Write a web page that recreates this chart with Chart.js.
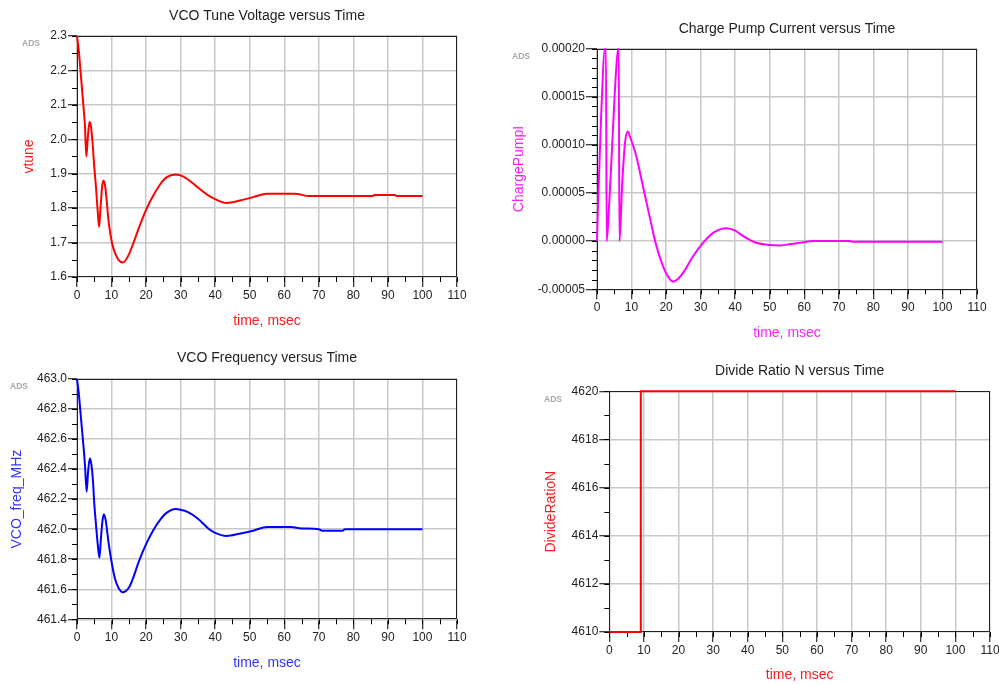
<!DOCTYPE html>
<html lang="en">
<head>
<meta charset="UTF-8">
<title>PLL transient response</title>
<style>
  body { margin: 0; background: #fff; width: 999px; height: 684px; overflow: hidden; position: relative; }
  canvas { position: absolute; }
</style>
</head>
<body>
<canvas id="c1" width="490" height="340" style="left:0;top:0"></canvas>
<canvas id="c2" width="509" height="345" style="left:490px;top:0"></canvas>
<canvas id="c3" width="490" height="344" style="left:0;top:340px"></canvas>
<canvas id="c4" width="515" height="344" style="left:490px;top:340px"></canvas>

<script src="https://cdn.jsdelivr.net/npm/chart.js"></script>
<script>
// values (time in msec)
const vtuneTime  = [0, 0.5, 1.0, 1.5, 2.0, 2.3, 2.7, 3.1, 3.6, 4.0, 4.5, 5.0, 5.5, 6.0, 6.4, 6.8, 7.3, 7.7, 8.2, 9.2,
                    10.1, 11, 12, 13.3, 15, 16, 18, 20, 22, 24, 26, 28.5, 30, 32, 35, 38, 40, 43.3, 47.2, 51,
                    54.9, 63.1, 67.2, 85.6, 86, 92, 92.5, 100];
const vtuneValue = [2.30, 2.26, 2.20, 2.14, 2.08, 2.04, 1.95, 2.00, 2.05, 2.04, 1.99, 1.92, 1.86, 1.79, 1.745, 1.80, 1.865, 1.88, 1.86, 1.757,
                    1.70, 1.67, 1.65, 1.642, 1.665, 1.69, 1.745, 1.795, 1.835, 1.868, 1.89, 1.898, 1.895, 1.884, 1.86, 1.837, 1.826, 1.815, 1.822, 1.832,
                    1.842, 1.842, 1.835, 1.835, 1.838, 1.838, 1.835, 1.835];

const cpTime  = [0, 0.4, 1.2, 2.3, 2.6, 2.8, 3.4, 4.4, 5.4, 6.1, 6.3, 6.5, 7.3, 8.1, 8.9, 9.6, 11.4, 13.3, 15.2, 17.2,
                 19.1, 20.6, 22, 23.5, 24.9, 27.8, 30.7, 33.6, 37.5, 40, 42.3, 46.1, 50, 52.5, 56, 59, 62.5, 73, 74, 100];
const cpValue = [0, 0.00005, 0.00013, 0.0002, 0.0002, 0, 0.00003, 0.0001, 0.00017, 0.0002, 0.0002, 0, 0.00006, 0.000102, 0.000114, 0.000108, 0.000088, 0.000057, 0.000026, -0.000005,
                 -0.000026, -0.000037, -0.000042, -0.000039, -0.000033, -0.0000156, -0.0000017, 0.0000087, 0.0000135, 0.000011, 0.0000052, -0.0000017, -0.000004, -0.0000045, -0.000003, -0.0000015, 0.0000003, 0.0000003, -0.0000005, -0.0000005];

const freqTime  = [0, 0.5, 1.0, 1.5, 2.0, 2.3, 2.8, 3.2, 3.7, 4.1, 4.6, 5.0, 5.5, 6.0, 6.5, 6.9, 7.4, 7.8, 8.3, 9.2,
                   10.1, 11, 12, 13.2, 15, 16, 18, 20, 22, 24, 26, 28.5, 30, 32, 35, 38, 40, 43.3, 47, 51,
                   55, 62, 65, 70, 71, 77, 77.5, 100];
const freqValue = [463.00, 462.91, 462.78, 462.65, 462.52, 462.43, 462.25, 462.38, 462.47, 462.44, 462.33, 462.17, 462.03, 461.90, 461.81, 461.93, 462.06, 462.10, 462.06, 461.90,
                   461.77, 461.67, 461.61, 461.58, 461.61, 461.66, 461.79, 461.90, 461.99, 462.06, 462.11, 462.135, 462.13, 462.115, 462.07, 462.005, 461.975, 461.955, 461.97, 461.99,
                   462.015, 462.015, 462.005, 462.00, 461.99, 461.99, 462.00, 462.00];

const divTime  = [0, 9.1, 9.1, 100];
const divValue = [4610, 4610, 4620, 4620];

const xTicks = { min: 0, max: 110, step: 10, minor: 5 };

const FONT = '"Liberation Sans", Arial, sans-serif';

// border box, minor tick marks and the grey "ADS" tag
const adsFrame = {
  id: 'adsFrame',
  beforeDatasetsDraw(chart, args, opts) {
    const { ctx, chartArea: a, scales: { x, y } } = chart;
    ctx.save();
    ctx.strokeStyle = '#000';
    ctx.lineWidth = 1;
    ctx.beginPath();
    let n = Math.round((x.max - x.min) / opts.xMinor);
    for (let i = 0; i <= n; i++) {
      const px = Math.round(x.getPixelForValue(x.min + i * opts.xMinor)) + 0.5;
      ctx.moveTo(px, a.bottom);
      ctx.lineTo(px, a.bottom + 5);
    }
    n = Math.round((y.max - y.min) / opts.yMinor);
    for (let i = 0; i <= n; i++) {
      const py = Math.round(y.getPixelForValue(y.min + i * opts.yMinor)) + 0.5;
      ctx.moveTo(a.left - 5, py);
      ctx.lineTo(a.left, py);
    }
    ctx.stroke();
    ctx.strokeStyle = '#222';
    ctx.strokeRect(Math.round(a.left) + 0.5, Math.round(a.top) + 0.5, Math.round(a.width) - 1, Math.round(a.height) - 1);
    ctx.fillStyle = '#a8a8a8';
    ctx.font = 'bold 8.5px ' + FONT;
    ctx.textAlign = 'center';
    ctx.textBaseline = 'middle';
    ctx.fillText('ADS', opts.adsX, a.top + 8);
    ctx.restore();
  }
};

function makePanel(id, p) {
  const pts = p.time.map((t, i) => ({ x: t, y: p.values[i] }));
  return new Chart(document.getElementById(id), {
    type: 'line',
    data: {
      datasets: [{
        data: pts,
        borderColor: p.color,
        borderWidth: 2,
        pointRadius: 0,
        clip: p.clip,
        cubicInterpolationMode: p.smooth ? 'monotone' : 'default',
        tension: 0
      }]
    },
    options: {
      responsive: false,
      animation: false,
      devicePixelRatio: 1,
      layout: { padding: { left: 0, top: 0, right: p.padRight, bottom: 0 } },
      plugins: {
        legend: { display: false },
        tooltip: { enabled: false },
        title: {
          display: true,
          text: p.title,
          fullSize: false,
          color: '#222',
          font: { family: FONT, size: 14, weight: 'normal' },
          padding: { top: p.titleTop, bottom: p.titleBottom }
        },
        adsFrame: { xMinor: xTicks.minor, yMinor: p.yMinor, adsX: p.yTitleX + 2 }
      },
      scales: {
        x: {
          type: 'linear',
          min: xTicks.min,
          max: xTicks.max,
          afterFit: s => { s.height = p.xHeight; },
          ticks: { stepSize: xTicks.step, padding: p.xTickPad, color: '#222', font: { family: FONT, size: 12 }, maxRotation: 0, autoSkip: false },
          grid: { color: '#c8c8c8', lineWidth: 1.5, tickLength: 10, tickColor: '#000', tickWidth: 1 },
          border: { display: false },
          title: {
            display: true, text: 'time, msec', color: p.titleColor,
            font: { family: FONT, size: 14 },
            padding: { top: 0, bottom: p.xTitlePad }
          }
        },
        y: {
          type: 'linear',
          min: p.yMin,
          max: p.yMax,
          afterFit: s => { s.width = p.yWidth; },
          ticks: {
            stepSize: p.yStep, padding: 1, color: '#222', font: { family: FONT, size: 12 },
            callback: v => v.toFixed(p.yDec)
          },
          grid: { color: '#c8c8c8', lineWidth: 1.5, tickLength: p.yTick, tickColor: '#000', tickWidth: 1 },
          border: { display: false },
          title: {
            display: true, text: p.yLabel, color: p.titleColor,
            font: { family: FONT, size: 14 },
            padding: { top: p.yTitleX - 8.4, bottom: 0 }
          }
        }
      }
    },
    plugins: [adsFrame]
  });
}

makePanel('c1', {
  title: 'VCO Tune Voltage versus Time', yLabel: 'vtune',
  time: vtuneTime, values: vtuneValue, color: '#ff0000', titleColor: '#ff1a1a', smooth: true, clip: 1,
  yMin: 1.6, yMax: 2.3, yStep: 0.1, yMinor: 0.05, yDec: 1, yTick: 9,
  yWidth: 77, padRight: 33, titleTop: 7.6, titleBottom: 11.6,
  xHeight: 63, xTickPad: 1, xTitlePad: 10.6, yTitleX: 29
});

makePanel('c2', {
  title: 'Charge Pump Current versus Time', yLabel: 'ChargePumpI',
  time: cpTime, values: cpValue, color: '#ff00ff', titleColor: '#ff22ff', smooth: true, clip: 1,
  yMin: -0.00005, yMax: 0.0002, yStep: 0.00005, yMinor: 0.00001, yDec: 5, yTick: 11,
  yWidth: 107, padRight: 22, titleTop: 20.6, titleBottom: 11.3,
  xHeight: 55.7, xTickPad: 1.5, xTitlePad: 3.6, yTitleX: 29
});

makePanel('c3', {
  title: 'VCO Frequency versus Time', yLabel: 'VCO_freq_MHz',
  time: freqTime, values: freqValue, color: '#0000ff', titleColor: '#3333ff', smooth: true, clip: 1,
  yMin: 461.4, yMax: 463.0, yStep: 0.2, yMinor: 0.1, yDec: 1, yTick: 9,
  yWidth: 77, padRight: 33, titleTop: 9.3, titleBottom: 12.9,
  xHeight: 64.7, xTickPad: 1.2, xTitlePad: 12.9, yTitleX: 17
});

makePanel('c4', {
  title: 'Divide Ratio N versus Time', yLabel: 'DivideRatioN',
  time: divTime, values: divValue, color: '#ff0000', titleColor: '#ff1a1a', smooth: false, clip: 4,
  yMin: 4610, yMax: 4620, yStep: 2, yMinor: 1, yDec: 0, yTick: 10,
  yWidth: 119.3, padRight: 15, titleTop: 22.6, titleBottom: 11.9,
  xHeight: 52, xTickPad: 1.8, xTitlePad: 0.6, yTitleX: 61
});
</script>
</body>
</html>
